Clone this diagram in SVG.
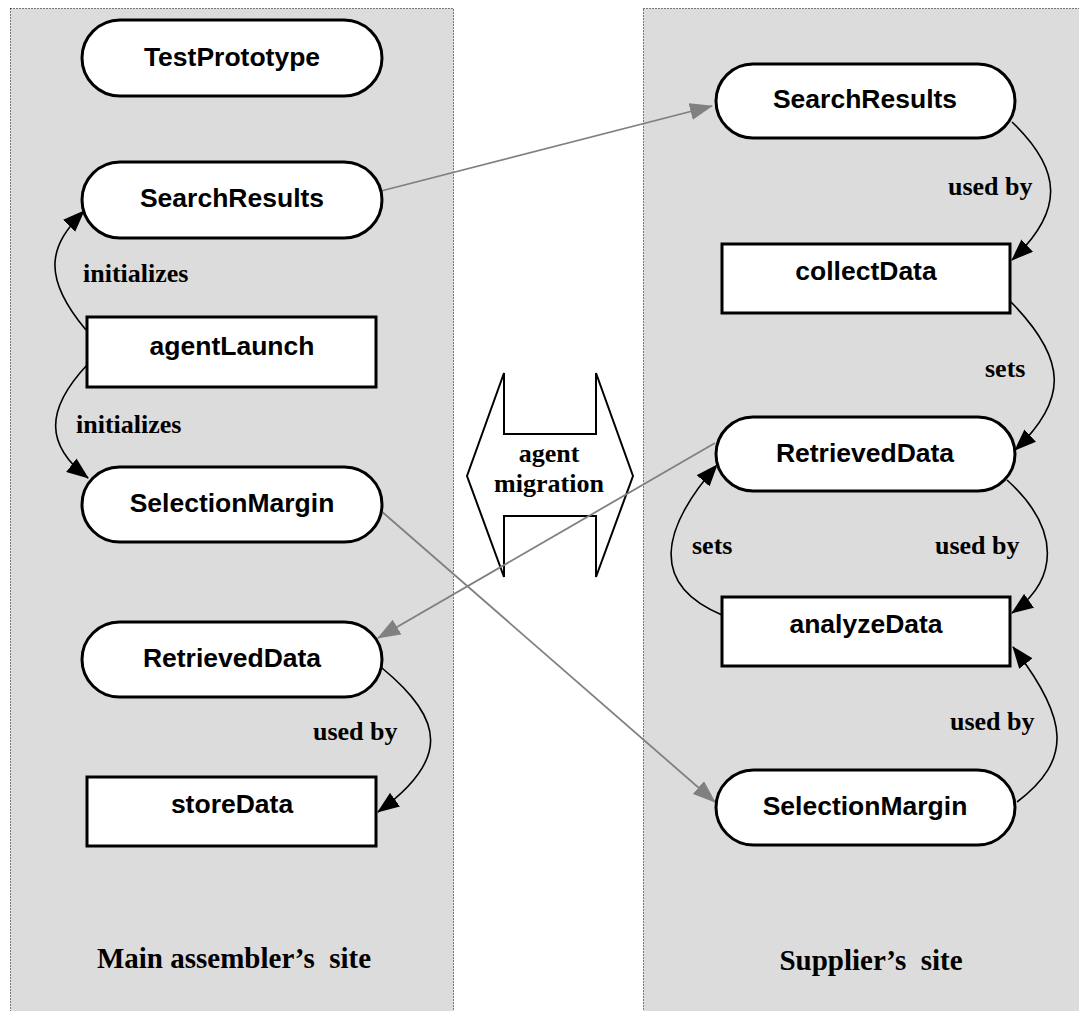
<svg xmlns="http://www.w3.org/2000/svg" width="1079" height="1011" viewBox="0 0 1079 1011">
<style>
.panel{fill:#dcdcdc;stroke:#000;stroke-width:1;stroke-dasharray:1 2}
.node{fill:#fff;stroke:#000;stroke-width:3}
.nt{font-family:"Liberation Sans",Arial,sans-serif;font-weight:bold;font-size:26.5px;text-anchor:middle;fill:#000}
.lb{font-family:"Liberation Serif","Times New Roman",serif;font-weight:bold;font-size:26px;fill:#000}
.site{font-family:"Liberation Serif","Times New Roman",serif;font-weight:bold;font-size:29px;text-anchor:middle;fill:#000;white-space:pre}
.blk{fill:none;stroke:#000;stroke-width:1.6;marker-end:url(#ab)}
.gry{fill:none;stroke:#808080;stroke-width:1.8;marker-end:url(#ag)}
.mig{fill:#fff;stroke:#000;stroke-width:2}
</style>
<defs>
<marker id="ab" viewBox="0 0 22 17" refX="21" refY="8.5" markerWidth="22" markerHeight="17" markerUnits="userSpaceOnUse" orient="auto"><path d="M0,0 L22,8.5 L0,17 z" fill="#000"/></marker>
<marker id="ag" viewBox="0 0 23 17" refX="22" refY="8.5" markerWidth="23" markerHeight="17" markerUnits="userSpaceOnUse" orient="auto"><path d="M0,0 L23,8.5 L0,17 z" fill="#808080"/></marker>
</defs>
<rect width="1079" height="1011" fill="#fff"/>
<g id="panels">
<rect class="panel" x="10.5" y="8.5" width="443" height="1020"/>
<rect class="panel" x="643.5" y="8.5" width="460" height="1020"/>
</g>
<g id="migration">
<path class="mig" d="M504,373 L504,434 L596,434 L596,373 L633,476 L596,577 L596,516 L504,516 L504,577 L467,476 Z"/>
</g>
<g id="connectors">
<path class="gry" d="M381,191 L712,106"/>
<path class="gry" d="M715,443 L378,638"/>
<path class="gry" d="M380,510 L715,802"/>
<path class="blk" d="M86,330 C40,275 50,245 84,211"/>
<path class="blk" d="M87,365 C45,410 45,445 88,478"/>
<path class="blk" d="M382,668 C445,720 450,760 378,812"/>
<path class="blk" d="M1012,122 C1062,170 1065,210 1012,260"/>
<path class="blk" d="M1011,302 C1068,360 1068,400 1015,450"/>
<path class="blk" d="M1007,480 C1062,530 1058,580 1012,613"/>
<path class="blk" d="M722,615 C650,585 660,530 717,465"/>
<path class="blk" d="M1017,802 C1072,760 1070,720 1013,647"/>
</g>
<g id="labels">
<text class="lb" x="83" y="282">initializes</text>
<text class="lb" x="76" y="433">initializes</text>
<text class="lb" x="313" y="740">used by</text>
<text class="lb" x="948" y="195">used by</text>
<text class="lb" x="985" y="377">sets</text>
<text class="lb" x="692" y="554">sets</text>
<text class="lb" x="935" y="554">used by</text>
<text class="lb" x="950" y="730">used by</text>
<text class="lb" x="549" y="462" text-anchor="middle">agent</text>
<text class="lb" x="549" y="492" text-anchor="middle">migration</text>
<text class="site" x="234" y="968">Main assembler’s  site</text>
<text class="site" x="871" y="970">Supplier’s  site</text>
</g>
<g id="n-testprototype"><rect class="node" x="82" y="20" width="300" height="76" rx="38"/><text class="nt" x="232" y="66">TestPrototype</text></g>
<g id="n-searchresults-main"><rect class="node" x="82" y="162" width="300" height="76" rx="38"/><text class="nt" x="232" y="207">SearchResults</text></g>
<g id="n-agentlaunch"><rect class="node" x="87" y="317" width="289" height="70"/><text class="nt" x="232" y="355">agentLaunch</text></g>
<g id="n-selectionmargin-main"><rect class="node" x="82" y="467" width="300" height="75" rx="37.5"/><text class="nt" x="232" y="512">SelectionMargin</text></g>
<g id="n-retrieveddata-main"><rect class="node" x="82" y="622" width="300" height="75" rx="37.5"/><text class="nt" x="232" y="667">RetrievedData</text></g>
<g id="n-storedata"><rect class="node" x="87" y="777" width="289" height="69"/><text class="nt" x="232" y="813">storeData</text></g>
<g id="n-searchresults-sup"><rect class="node" x="716" y="64" width="299" height="74" rx="37"/><text class="nt" x="865" y="108">SearchResults</text></g>
<g id="n-collectdata"><rect class="node" x="722" y="244" width="288" height="69"/><text class="nt" x="866" y="280">collectData</text></g>
<g id="n-retrieveddata-sup"><rect class="node" x="716" y="417" width="299" height="74" rx="37"/><text class="nt" x="865" y="462">RetrievedData</text></g>
<g id="n-analyzedata"><rect class="node" x="722" y="597" width="288" height="69"/><text class="nt" x="866" y="633">analyzeData</text></g>
<g id="n-selectionmargin-sup"><rect class="node" x="716" y="770" width="299" height="75" rx="37.5"/><text class="nt" x="865" y="815">SelectionMargin</text></g>
</svg>
